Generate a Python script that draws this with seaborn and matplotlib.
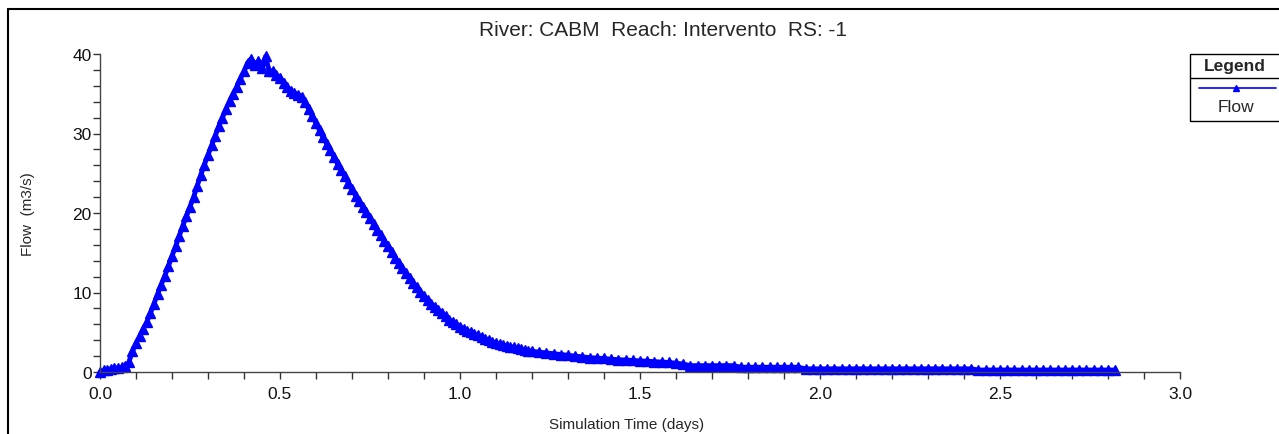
import numpy as np
import matplotlib
matplotlib.use("Agg")
import matplotlib.pyplot as plt
import seaborn as sns
from matplotlib.patches import Rectangle
from matplotlib.lines import Line2D
from matplotlib.ticker import MultipleLocator

sns.set_style("ticks")
plt.rcParams["font.family"] = ["Liberation Sans", "DejaVu Sans"]

# 数据: 时间 (days) 与流量 (m3/s)
time_fine = np.round(np.arange(0.0, 1.2001, 0.01), 2)
flow_fine = [
    0.0, 0.2, 0.3, 0.4, 0.5, 0.5, 0.6, 0.7, 1.2, 2.6,
    3.6, 4.5, 5.4, 6.3, 7.4, 8.6, 9.8, 11.0, 12.1, 13.3,
    14.6, 15.8, 17.1, 18.4, 19.6, 20.8, 22.0, 23.4, 24.8, 26.1,
    27.3, 28.5, 29.7, 30.9, 32.0, 33.1, 34.1, 35.0, 35.9, 36.9,
    37.8, 38.9, 39.4, 38.6, 39.1, 38.2, 39.7, 37.8, 37.9, 37.4,
    37.0, 36.4, 35.8, 35.4, 35.1, 34.9, 34.6, 33.9, 33.1, 32.2,
    31.3, 30.4, 29.5, 28.7, 27.9, 27.0, 26.2, 25.4, 24.6, 23.8,
    23.0, 22.2, 21.5, 20.8, 20.1, 19.4, 18.6, 17.9, 17.2, 16.5,
    15.8, 15.1, 14.4, 13.7, 13.1, 12.4, 11.8, 11.2, 10.7, 10.1,
    9.6, 9.1, 8.6, 8.2, 7.8, 7.4, 7.0, 6.6, 6.3, 6.0,
    5.7, 5.4, 5.2, 5.0, 4.8, 4.6, 4.4, 4.2, 4.0, 3.8,
    3.7, 3.5, 3.4, 3.3, 3.2, 3.1, 3.0, 2.9, 2.8, 2.7,
    2.6,
]
time_tail = np.round(np.arange(1.22, 2.8201, 0.02), 2)
flow_tail = [
    2.5, 2.4, 2.3, 2.2, 2.1, 2.0, 1.9, 1.8, 1.75, 1.7,
    1.6, 1.55, 1.5, 1.45, 1.4, 1.35, 1.3, 1.25, 1.2, 1.1,
    1.0, 0.8, 0.8, 0.8, 0.8, 0.8, 0.8, 0.8, 0.6, 0.6,
    0.6, 0.6, 0.6, 0.6, 0.6, 0.6, 0.6, 0.4, 0.4, 0.4,
    0.4, 0.4, 0.4, 0.4, 0.4, 0.4, 0.4, 0.4, 0.4, 0.4,
    0.4, 0.4, 0.4, 0.4, 0.4, 0.4, 0.4, 0.4, 0.4, 0.4,
    0.4, 0.25, 0.25, 0.25, 0.25, 0.25, 0.25, 0.25, 0.25, 0.25,
    0.25, 0.25, 0.25, 0.25, 0.25, 0.25, 0.25, 0.25, 0.25, 0.25,
    0.25,
]
sim_time = np.concatenate([time_fine, time_tail])
flow = np.array(flow_fine + flow_tail)

title = "River: CABM  Reach: Intervento  RS: -1"
W, H = 1279, 435

fig = plt.figure(figsize=(W / 100, H / 100), dpi=100)
ax = fig.add_axes([100 / W, 1 - 373 / H, 1080 / W, 318 / H])

sns.lineplot(x=sim_time, y=flow, ax=ax, color="#0000ff", linewidth=3.5,
             marker="^", markersize=6.5, markeredgecolor="#0000ff",
             markeredgewidth=1, clip_on=False, legend=False)

ax.set_xlim(0, 3)
ax.set_ylim(0, 40)
ax.xaxis.set_major_locator(MultipleLocator(0.5))
ax.xaxis.set_minor_locator(MultipleLocator(0.1))
ax.yaxis.set_major_locator(MultipleLocator(10))
ax.yaxis.set_minor_locator(MultipleLocator(2))
ax.xaxis.set_major_formatter(matplotlib.ticker.FormatStrFormatter("%.1f"))
ax.tick_params(which="both", direction="out", length=5, width=1,
               color="#333333", labelsize=12.5, labelcolor="#111111")
ax.tick_params(axis="y", pad=1)
ax.tick_params(axis="x", pad=5)
for s in ("top", "right"):
    ax.spines[s].set_visible(False)
for s in ("left", "bottom"):
    ax.spines[s].set_color("#444444")
    ax.spines[s].set_linewidth(1)

ax.set_xlabel("Simulation Time (days)", fontsize=11)
ax.xaxis.set_label_coords((627 - 100) / 1080, -(418 - 373) / 318)
ax.set_ylabel("Flow  (m3/s)", fontsize=11)
ax.yaxis.set_label_coords(-(100 - 35) / 1080, 0.5)


def fp(x, y):
    return x / W, 1 - y / H


fig.text(*fp(663, 31), title, ha="center", va="center", fontsize=15)

# 图框 (只显示上边和左边)
fig.add_artist(Line2D([7.5 / W, 1], [1 - 10 / H, 1 - 10 / H],
                      color="black", lw=1.5, transform=fig.transFigure))
fig.add_artist(Line2D([7.5 / W, 7.5 / W], [0, 1 - 10 / H],
                      color="black", lw=1.5, transform=fig.transFigure))

# 图例 (HEC-RAS 样式)
x0, y0 = fp(1190, 122)
fig.add_artist(Rectangle((x0, y0), 100 / W, 67 / H, fill=False,
                         edgecolor="black", lw=1, transform=fig.transFigure))
fig.add_artist(Line2D([1190 / W, 1], [1 - 79 / H, 1 - 79 / H],
                      color="black", lw=1, transform=fig.transFigure))
fig.add_artist(Line2D([1199 / W, 1276 / W], [1 - 88.5 / H, 1 - 88.5 / H],
                      color="#0000ff", lw=1.2, transform=fig.transFigure))
fig.add_artist(Line2D([1236 / W], [1 - 88.5 / H], marker="^", markersize=5,
                      color="#0000ff", transform=fig.transFigure))
fig.text(*fp(1235, 67), "Legend", ha="center", va="center",
         fontsize=12.5, fontweight="bold")
fig.text(*fp(1236, 107), "Flow", ha="center", va="center", fontsize=12.5)

fig.savefig("out.png", dpi=100)
